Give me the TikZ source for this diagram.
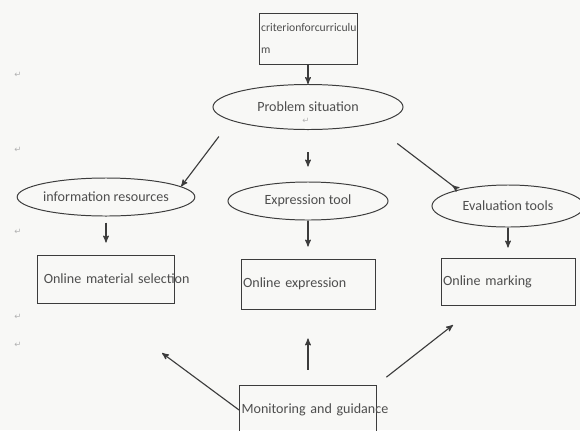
\documentclass[tikz,border=0pt]{standalone}
\usepackage{fontspec}
\setmainfont{Carlito}
\newfontfamily\markfont{DejaVu Sans}
\usetikzlibrary{arrows,shapes.geometric}
\definecolor{linegray}{HTML}{3C3C3C}
\definecolor{textgray}{HTML}{4E4E4E}
\definecolor{paper}{HTML}{F8F8F6}

\begin{document}
\begin{tikzpicture}[->,>=stealth',x=0.025cm,y=-0.025cm,
  font=\fontsize{10}{12}\selectfont,text=textgray,
  ell node/.style={ellipse,draw=linegray,line width=0.7pt,inner sep=0pt},
  rec node/.style={rectangle,draw=linegray,line width=0.6pt,inner xsep=1.5pt,align=left},
  pmark/.style={font=\markfont\fontsize{6}{6}\selectfont,text=gray!60,inner sep=0pt},
  arr/.style={color=linegray,line width=0.8pt}]

  \useasboundingbox[fill=paper] (0,0) rectangle (580,430);
  \clip (0,0) rectangle (580,430);

  \node[rec node,text width=2.34cm,minimum height=1.275cm] (crit) at (308,38.5)
    {\fontsize{8.3}{10}\selectfont criterionforcurriculu\\[4pt]m};
  \node[ell node,minimum width=4.75cm,minimum height=1.125cm] (prob) at (308,107) {Problem situation};

  \node[ell node,minimum width=4.125cm,minimum height=0.95cm] (info) at (106,197) {information resources};
  \node[ell node,minimum width=4cm,minimum height=0.95cm] (expr) at (308,201) {Expression tool};
  \node[ell node,minimum width=3.8cm,minimum height=1.05cm] (eval) at (508,206) {Evaluation tools};

  \node[rec node,text width=3.32cm,minimum height=1.2cm] (sel) at (106,279)
    {\hspace*{3pt}\mbox{Online material selection}};
  \node[rec node,text width=3.245cm,minimum height=1.25cm] (exbox) at (308,284) {\mbox{Online expression}};
  \node[rec node,text width=3.245cm,minimum height=1.175cm] (markbox) at (508,281.5) {\mbox{Online marking}};
  \node[rec node,text width=3.32cm,minimum height=1.25cm] (mon) at (308,410) {\mbox{Monitoring and guidance}};

  \coordinate (selTip) at (162,353);
  \coordinate (markTip) at (453,325);

  % paragraph marks
  \foreach \y [count=\i] in {75,150,232,317,345}
    \node[pmark] (pm\i) at (18,\y) {↵};
  \node[pmark] (pm6) at (306,121) {↵};

  \path[arr]
    (crit) edge (prob)
    (prob.190) edge [shorten <=0.5cm] (info.8)
    (prob) edge [shorten <=0.55cm,shorten >=0.375cm] (expr)
    (prob.345) edge [-stealth' reversed,shorten <=0.8cm] (eval.162)
    (info) edge [shorten <=0.15cm,shorten >=0.3cm] (sel)
    (expr) edge [shorten >=0.3cm] (exbox)
    (eval) edge [shorten >=0.25cm] (markbox)
    ;

  \path[arr]
    (mon.west) edge (selTip)
    (mon) edge [shorten <=0.375cm,shorten >=0.725cm] (exbox)
    (mon.north east) edge [shorten <=0.3cm] (markTip)
    ;

\end{tikzpicture}
\end{document}
